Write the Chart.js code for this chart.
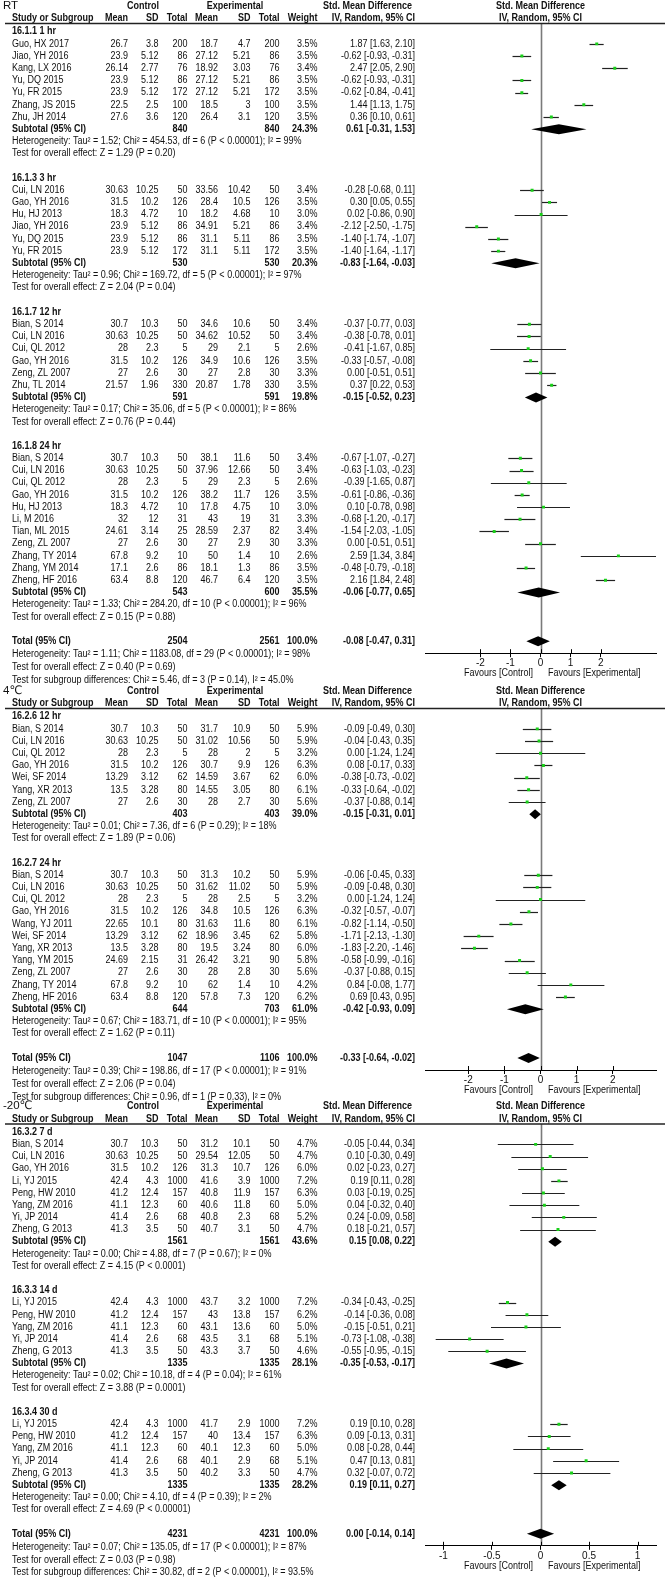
<!DOCTYPE html>
<html><head><meta charset="utf-8">
<script src="https://cdn.jsdelivr.net/npm/chart.js@4"></script>
<style>
html,body{margin:0;padding:0;background:#fff;}
body{width:667px;height:1578px;position:relative;overflow:hidden;}
canvas{position:absolute;left:0;}
</style>
</head><body>
<script>
// ---------------- Panel 1: RT ----------------
const rtTitle = "RT";
const rtGroups = ["16.1.1 1 hr", "16.1.3 3 hr", "16.1.7 12 hr", "16.1.8 24 hr"];
const rtGroupOf = [0,0,0,0,0,0,0, 1,1,1,1,1,1, 2,2,2,2,2,2, 3,3,3,3,3,3,3,3,3,3,3];
const rtStudies = ["Guo, HX 2017","Jiao, YH 2016","Kang, LX 2016","Yu, DQ 2015","Yu, FR 2015","Zhang, JS 2015","Zhu, JH 2014",
  "Cui, LN 2016","Gao, YH 2016","Hu, HJ 2013","Jiao, YH 2016","Yu, DQ 2015","Yu, FR 2015",
  "Bian, S 2014","Cui, LN 2016","Cui, QL 2012","Gao, YH 2016","Zeng, ZL 2007","Zhu, TL 2014",
  "Bian, S 2014","Cui, LN 2016","Cui, QL 2012","Gao, YH 2016","Hu, HJ 2013","Li, M 2016","Tian, ML 2015","Zeng, ZL 2007","Zhang, TY 2014","Zhang, YM 2014","Zheng, HF 2016"];
const rtCtlMean = [26.7,23.9,26.14,23.9,23.9,22.5,27.6, 30.63,31.5,18.3,23.9,23.9,23.9, 30.7,30.63,28,31.5,27,21.57, 30.7,30.63,28,31.5,18.3,32,24.61,27,67.8,17.1,63.4];
const rtCtlSD = [3.8,5.12,2.77,5.12,5.12,2.5,3.6, 10.25,10.2,4.72,5.12,5.12,5.12, 10.3,10.25,2.3,10.2,2.6,1.96, 10.3,10.25,2.3,10.2,4.72,12,3.14,2.6,9.2,2.6,8.8];
const rtCtlN = [200,86,76,86,172,100,120, 50,126,10,86,86,172, 50,50,5,126,30,330, 50,50,5,126,10,31,25,30,10,86,120];
const rtExpMean = [18.7,27.12,18.92,27.12,27.12,18.5,26.4, 33.56,28.4,18.2,34.91,31.1,31.1, 34.6,34.62,29,34.9,27,20.87, 38.1,37.96,29,38.2,17.8,43,28.59,27,50,18.1,46.7];
const rtExpSD = [4.7,5.21,3.03,5.21,5.21,3,3.1, 10.42,10.5,4.68,5.21,5.11,5.11, 10.6,10.52,2.1,10.6,2.8,1.78, 11.6,12.66,2.3,11.7,4.75,19,2.37,2.9,1.4,1.3,6.4];
const rtExpN = [200,86,76,86,172,100,120, 50,126,10,86,86,172, 50,50,5,126,30,330, 50,50,5,126,10,31,82,30,10,86,120];
const rtWeight = [3.5,3.5,3.4,3.5,3.5,3.5,3.5, 3.4,3.5,3.0,3.4,3.5,3.5, 3.4,3.4,2.6,3.5,3.3,3.5, 3.4,3.4,2.6,3.5,3.0,3.3,3.4,3.3,2.6,3.5,3.5];
const rtSMD = [1.87,-0.62,2.47,-0.62,-0.62,1.44,0.36, -0.28,0.30,0.02,-2.12,-1.40,-1.40, -0.37,-0.38,-0.41,-0.33,0.00,0.37, -0.67,-0.63,-0.39,-0.61,0.10,-0.68,-1.54,0.00,2.59,-0.48,2.16];
const rtLo = [1.63,-0.93,2.05,-0.93,-0.84,1.13,0.10, -0.68,0.05,-0.86,-2.50,-1.74,-1.64, -0.77,-0.78,-1.67,-0.57,-0.51,0.22, -1.07,-1.03,-1.65,-0.86,-0.78,-1.20,-2.03,-0.51,1.34,-0.79,1.84];
const rtHi = [2.10,-0.31,2.90,-0.31,-0.41,1.75,0.61, 0.11,0.55,0.90,-1.75,-1.07,-1.17, 0.03,0.01,0.85,-0.08,0.51,0.53, -0.27,-0.23,0.87,-0.36,0.98,-0.17,-1.05,0.51,3.84,-0.18,2.48];
const rtSubCtlN = [840,530,591,543];
const rtSubExpN = [840,530,591,600];
const rtSubWeight = [24.3,20.3,19.8,35.5];
const rtSubSMD = [0.61,-0.83,-0.15,-0.06];
const rtSubLo = [-0.31,-1.64,-0.52,-0.77];
const rtSubHi = [1.53,-0.03,0.23,0.65];
const rtHet = ["Heterogeneity: Tau\u00B2 = 1.52; Chi\u00B2 = 454.53, df = 6 (P < 0.00001); I\u00B2 = 99%",
  "Heterogeneity: Tau\u00B2 = 0.96; Chi\u00B2 = 169.72, df = 5 (P < 0.00001); I\u00B2 = 97%",
  "Heterogeneity: Tau\u00B2 = 0.17; Chi\u00B2 = 35.06, df = 5 (P < 0.00001); I\u00B2 = 86%",
  "Heterogeneity: Tau\u00B2 = 1.33; Chi\u00B2 = 284.20, df = 10 (P < 0.00001); I\u00B2 = 96%"];
const rtTest = ["Test for overall effect: Z = 1.29 (P = 0.20)","Test for overall effect: Z = 2.04 (P = 0.04)",
  "Test for overall effect: Z = 0.76 (P = 0.44)","Test for overall effect: Z = 0.15 (P = 0.88)"];
const rtTotalN = [2504, 2561];
const rtTotalEffect = [-0.08, -0.47, 0.31];
const rtFooter = ["Heterogeneity: Tau\u00B2 = 1.11; Chi\u00B2 = 1183.08, df = 29 (P < 0.00001); I\u00B2 = 98%",
  "Test for overall effect: Z = 0.40 (P = 0.69)",
  "Test for subgroup differences: Chi\u00B2 = 5.46, df = 3 (P = 0.14), I\u00B2 = 45.0%"];
const rtTicks = [-2, -1, 0, 1, 2];

// ---------------- Panel 2: 4℃ ----------------
const c4Title = "4\u2103";
const c4Groups = ["16.2.6 12 hr", "16.2.7 24 hr"];
const c4GroupOf = [0,0,0,0,0,0,0, 1,1,1,1,1,1,1,1,1,1,1];
const c4Studies = ["Bian, S 2014","Cui, LN 2016","Cui, QL 2012","Gao, YH 2016","Wei, SF 2014","Yang, XR 2013","Zeng, ZL 2007",
  "Bian, S 2014","Cui, LN 2016","Cui, QL 2012","Gao, YH 2016","Wang, YJ 2011","Wei, SF 2014","Yang, XR 2013","Yang, YM 2015","Zeng, ZL 2007","Zhang, TY 2014","Zheng, HF 2016"];
const c4CtlMean = [30.7,30.63,28,31.5,13.29,13.5,27, 30.7,30.63,28,31.5,22.65,13.29,13.5,24.69,27,67.8,63.4];
const c4CtlSD = [10.3,10.25,2.3,10.2,3.12,3.28,2.6, 10.3,10.25,2.3,10.2,10.1,3.12,3.28,2.15,2.6,9.2,8.8];
const c4CtlN = [50,50,5,126,62,80,30, 50,50,5,126,80,62,80,31,30,10,120];
const c4ExpMean = [31.7,31.02,28,30.7,14.59,14.55,28, 31.3,31.62,28,34.8,31.63,18.96,19.5,26.42,28,62,57.8];
const c4ExpSD = [10.9,10.56,2,9.9,3.67,3.05,2.7, 10.2,11.02,2.5,10.5,11.6,3.45,3.24,3.21,2.8,1.4,7.3];
const c4ExpN = [50,50,5,126,62,80,30, 50,50,5,126,80,62,80,90,30,10,120];
const c4Weight = [5.9,5.9,3.2,6.3,6.0,6.1,5.6, 5.9,5.9,3.2,6.3,6.1,5.8,6.0,5.8,5.6,4.2,6.2];
const c4SMD = [-0.09,-0.04,0.00,0.08,-0.38,-0.33,-0.37, -0.06,-0.09,0.00,-0.32,-0.82,-1.71,-1.83,-0.58,-0.37,0.84,0.69];
const c4Lo = [-0.49,-0.43,-1.24,-0.17,-0.73,-0.64,-0.88, -0.45,-0.48,-1.24,-0.57,-1.14,-2.13,-2.20,-0.99,-0.88,-0.08,0.43];
const c4Hi = [0.30,0.35,1.24,0.33,-0.02,-0.02,0.14, 0.33,0.30,1.24,-0.07,-0.50,-1.30,-1.46,-0.16,0.15,1.77,0.95];
const c4SubCtlN = [403,644];
const c4SubExpN = [403,703];
const c4SubWeight = [39.0,61.0];
const c4SubSMD = [-0.15,-0.42];
const c4SubLo = [-0.31,-0.93];
const c4SubHi = [0.01,0.09];
const c4Het = ["Heterogeneity: Tau\u00B2 = 0.01; Chi\u00B2 = 7.36, df = 6 (P = 0.29); I\u00B2 = 18%",
  "Heterogeneity: Tau\u00B2 = 0.67; Chi\u00B2 = 183.71, df = 10 (P < 0.00001); I\u00B2 = 95%"];
const c4Test = ["Test for overall effect: Z = 1.89 (P = 0.06)","Test for overall effect: Z = 1.62 (P = 0.11)"];
const c4TotalN = [1047, 1106];
const c4TotalEffect = [-0.33, -0.64, -0.02];
const c4Footer = ["Heterogeneity: Tau\u00B2 = 0.39; Chi\u00B2 = 198.86, df = 17 (P < 0.00001); I\u00B2 = 91%",
  "Test for overall effect: Z = 2.06 (P = 0.04)",
  "Test for subgroup differences: Chi\u00B2 = 0.96, df = 1 (P = 0.33), I\u00B2 = 0%"];
const c4Ticks = [-2, -1, 0, 1, 2];

// ---------------- Panel 3: -20℃ ----------------
const m20Title = "-20\u2103";
const m20Groups = ["16.3.2 7 d", "16.3.3 14 d", "16.3.4 30 d"];
const m20GroupOf = [0,0,0,0,0,0,0,0, 1,1,1,1,1, 2,2,2,2,2];
const m20Studies = ["Bian, S 2014","Cui, LN 2016","Gao, YH 2016","Li, YJ 2015","Peng, HW 2010","Yang, ZM 2016","Yi, JP 2014","Zheng, G 2013",
  "Li, YJ 2015","Peng, HW 2010","Yang, ZM 2016","Yi, JP 2014","Zheng, G 2013",
  "Li, YJ 2015","Peng, HW 2010","Yang, ZM 2016","Yi, JP 2014","Zheng, G 2013"];
const m20CtlMean = [30.7,30.63,31.5,42.4,41.2,41.1,41.4,41.3, 42.4,41.2,41.1,41.4,41.3, 42.4,41.2,41.1,41.4,41.3];
const m20CtlSD = [10.3,10.25,10.2,4.3,12.4,12.3,2.6,3.5, 4.3,12.4,12.3,2.6,3.5, 4.3,12.4,12.3,2.6,3.5];
const m20CtlN = [50,50,126,1000,157,60,68,50, 1000,157,60,68,50, 1000,157,60,68,50];
const m20ExpMean = [31.2,29.54,31.3,41.6,40.8,40.6,40.8,40.7, 43.7,43,43.1,43.5,43.3, 41.7,40,40.1,40.1,40.2];
const m20ExpSD = [10.1,12.05,10.7,3.9,11.9,11.8,2.3,3.1, 3.2,13.8,13.6,3.1,3.7, 2.9,13.4,12.3,2.9,3.3];
const m20ExpN = [50,50,126,1000,157,60,68,50, 1000,157,60,68,50, 1000,157,60,68,50];
const m20Weight = [4.7,4.7,6.0,7.2,6.3,5.0,5.2,4.7, 7.2,6.2,5.0,5.1,4.6, 7.2,6.3,5.0,5.1,4.7];
const m20SMD = [-0.05,0.10,0.02,0.19,0.03,0.04,0.24,0.18, -0.34,-0.14,-0.15,-0.73,-0.55, 0.19,0.09,0.08,0.47,0.32];
const m20Lo = [-0.44,-0.30,-0.23,0.11,-0.19,-0.32,-0.09,-0.21, -0.43,-0.36,-0.51,-1.08,-0.95, 0.10,-0.13,-0.28,0.13,-0.07];
const m20Hi = [0.34,0.49,0.27,0.28,0.25,0.40,0.58,0.57, -0.25,0.08,0.21,-0.38,-0.15, 0.28,0.31,0.44,0.81,0.72];
const m20SubCtlN = [1561,1335,1335];
const m20SubExpN = [1561,1335,1335];
const m20SubWeight = [43.6,28.1,28.2];
const m20SubSMD = [0.15,-0.35,0.19];
const m20SubLo = [0.08,-0.53,0.11];
const m20SubHi = [0.22,-0.17,0.27];
const m20Het = ["Heterogeneity: Tau\u00B2 = 0.00; Chi\u00B2 = 4.88, df = 7 (P = 0.67); I\u00B2 = 0%",
  "Heterogeneity: Tau\u00B2 = 0.02; Chi\u00B2 = 10.18, df = 4 (P = 0.04); I\u00B2 = 61%",
  "Heterogeneity: Tau\u00B2 = 0.00; Chi\u00B2 = 4.10, df = 4 (P = 0.39); I\u00B2 = 2%"];
const m20Test = ["Test for overall effect: Z = 4.15 (P < 0.0001)","Test for overall effect: Z = 3.88 (P = 0.0001)",
  "Test for overall effect: Z = 4.69 (P < 0.00001)"];
const m20TotalN = [4231, 4231];
const m20TotalEffect = [0.00, -0.14, 0.14];
const m20Footer = ["Heterogeneity: Tau\u00B2 = 0.07; Chi\u00B2 = 135.05, df = 17 (P < 0.00001); I\u00B2 = 87%",
  "Test for overall effect: Z = 0.03 (P = 0.98)",
  "Test for subgroup differences: Chi\u00B2 = 30.82, df = 2 (P < 0.00001), I\u00B2 = 93.5%"];
const m20Ticks = [-1, -0.5, 0, 0.5, 1];

// ---------------- layout / drawing ----------------
const FONT = '"Liberation Sans", "DejaVu Sans", Arial, sans-serif';
const NARROW = 0.9;
const COL = {name:12, cm:128, csd:158.5, cn:187.5, em:218, esd:250.5, en:279.5, w:317.5, ci:415};
const PLOT_L = 425, PLOT_R = 656, W = 667;

function txt(ctx, s, x, y, align, bold, size, narrow) {
  ctx.save();
  ctx.font = (bold ? 'bold ' : '') + (size || 10) + 'px ' + FONT;
  ctx.textBaseline = 'middle';
  ctx.textAlign = align || 'left';
  ctx.fillStyle = '#111';
  ctx.translate(x, y);
  ctx.scale(narrow === false ? 1 : NARROW, 1);
  ctx.fillText(s, 0, 0);
  ctx.restore();
}
const f2 = v => v.toFixed(2);
const ciStr = (m, l, h) => f2(m) + ' [' + f2(l) + ', ' + f2(h) + ']';

function makePanel(P) {
  const rows = []; let r = 0;
  P.groups.forEach((g, gi) => {
    rows.push({t:'group', r:r++, g:gi});
    P.names.forEach((n, i) => { if (P.groupOf[i] === gi) rows.push({t:'study', r:r++, i:i}); });
    rows.push({t:'sub', r:r++, g:gi});
    rows.push({t:'het', r:r++, g:gi});
    rows.push({t:'test', r:r++, g:gi});
    r++;
  });
  const totalRow = r;
  const axisY = P.r0 + P.pitch * totalRow + 12;
  const T = P.lineY - P.top, B = axisY - P.top;
  const yMin = (P.lineY - P.r0) / P.pitch, yMax = (axisY - P.r0) / P.pitch;

  const cv = document.createElement('canvas');
  cv.width = W; cv.height = P.height;
  cv.style.top = P.top + 'px'; cv.style.width = W + 'px'; cv.style.height = P.height + 'px';
  document.body.appendChild(cv);

  const points = rows.filter(o => o.t === 'study').map(o => ({x: P.smd[o.i], y: o.r}));

  const plugin = {
    id: 'forest_' + P.top,
    beforeDatasetsDraw(chart) {
      const ctx = chart.ctx, xs = chart.scales.x, ys = chart.scales.y, ca = chart.chartArea;
      ctx.save();
      const x0 = Math.round(xs.getPixelForValue(0)) + 0.5;
      ctx.strokeStyle = '#7a7a7a'; ctx.lineWidth = 1.6;
      ctx.beginPath(); ctx.moveTo(x0, ca.top); ctx.lineTo(x0, ca.bottom); ctx.stroke();
      ctx.strokeStyle = '#222'; ctx.lineWidth = 1.2;
      rows.forEach(o => {
        if (o.t !== 'study') return;
        const y = Math.round(ys.getPixelForValue(o.r)) + 0.5;
        ctx.beginPath();
        ctx.moveTo(xs.getPixelForValue(P.lo[o.i]), y);
        ctx.lineTo(xs.getPixelForValue(P.hi[o.i]), y);
        ctx.stroke();
      });
      const diamond = (m, l, h, rr) => {
        const y = ys.getPixelForValue(rr);
        ctx.beginPath();
        ctx.moveTo(xs.getPixelForValue(l), y);
        ctx.lineTo(xs.getPixelForValue(m), y - 5);
        ctx.lineTo(xs.getPixelForValue(h), y);
        ctx.lineTo(xs.getPixelForValue(m), y + 5);
        ctx.closePath(); ctx.fillStyle = '#000'; ctx.fill();
      };
      rows.forEach(o => { if (o.t === 'sub') diamond(P.subSmd[o.g], P.subLo[o.g], P.subHi[o.g], o.r); });
      diamond(P.totEff[0], P.totEff[1], P.totEff[2], totalRow);
      ctx.restore();
    },
    afterDraw(chart) {
      const ctx = chart.ctx, xs = chart.scales.x, ys = chart.scales.y, ca = chart.chartArea;
      const yr = v => ys.getPixelForValue(v);
      const h1 = P.lineY - P.top - 17.5, h2 = P.lineY - P.top - 5;
      txt(ctx, P.title, 3, h1 - 0.5, 'left', false, 11.5, false);
      txt(ctx, 'Control', 143, h1, 'center', true);
      txt(ctx, 'Experimental', 235, h1, 'center', true);
      txt(ctx, 'Std. Mean Difference', 412, h1, 'right', true);
      txt(ctx, 'Std. Mean Difference', xs.getPixelForValue(0), h1, 'center', true);
      txt(ctx, 'Study or Subgroup', COL.name, h2, 'left', true);
      txt(ctx, 'Mean', COL.cm, h2, 'right', true);
      txt(ctx, 'SD', COL.csd, h2, 'right', true);
      txt(ctx, 'Total', COL.cn, h2, 'right', true);
      txt(ctx, 'Mean', COL.em, h2, 'right', true);
      txt(ctx, 'SD', COL.esd, h2, 'right', true);
      txt(ctx, 'Total', COL.en, h2, 'right', true);
      txt(ctx, 'Weight', COL.w, h2, 'right', true);
      txt(ctx, 'IV, Random, 95% CI', COL.ci, h2, 'right', true);
      txt(ctx, 'IV, Random, 95% CI', xs.getPixelForValue(0), h2, 'center', true);
      ctx.save(); ctx.strokeStyle = '#222'; ctx.lineWidth = 1.4;
      ctx.beginPath(); ctx.moveTo(5, T); ctx.lineTo(W - 2, T); ctx.stroke(); ctx.restore();
      rows.forEach(o => {
        const y = yr(o.r);
        if (o.t === 'group') txt(ctx, P.groups[o.g], COL.name, y, 'left', true);
        else if (o.t === 'study') {
          const i = o.i;
          txt(ctx, P.names[i], COL.name, y, 'left');
          txt(ctx, String(P.cm[i]), COL.cm, y, 'right');
          txt(ctx, String(P.csd[i]), COL.csd, y, 'right');
          txt(ctx, String(P.cn[i]), COL.cn, y, 'right');
          txt(ctx, String(P.em[i]), COL.em, y, 'right');
          txt(ctx, String(P.esd[i]), COL.esd, y, 'right');
          txt(ctx, String(P.en[i]), COL.en, y, 'right');
          txt(ctx, P.w[i].toFixed(1) + '%', COL.w, y, 'right');
          txt(ctx, ciStr(P.smd[i], P.lo[i], P.hi[i]), COL.ci, y, 'right');
        } else if (o.t === 'sub') {
          const g = o.g;
          txt(ctx, 'Subtotal (95% CI)', COL.name, y, 'left', true);
          txt(ctx, String(P.subCn[g]), COL.cn, y, 'right', true);
          txt(ctx, String(P.subEn[g]), COL.en, y, 'right', true);
          txt(ctx, P.subW[g].toFixed(1) + '%', COL.w, y, 'right', true);
          txt(ctx, ciStr(P.subSmd[g], P.subLo[g], P.subHi[g]), COL.ci, y, 'right', true);
        } else if (o.t === 'het') txt(ctx, P.het[o.g], COL.name, y, 'left');
        else if (o.t === 'test') txt(ctx, P.test[o.g], COL.name, y, 'left');
      });
      const ty = yr(totalRow);
      txt(ctx, 'Total (95% CI)', COL.name, ty, 'left', true);
      txt(ctx, String(P.totN[0]), COL.cn, ty, 'right', true);
      txt(ctx, String(P.totN[1]), COL.en, ty, 'right', true);
      txt(ctx, '100.0%', COL.w, ty, 'right', true);
      txt(ctx, ciStr(P.totEff[0], P.totEff[1], P.totEff[2]), COL.ci, ty, 'right', true);
      [13.5, 26.5, 38.8].forEach((d, k) => txt(ctx, P.footer[k], COL.name, ty + d, 'left'));
      ctx.save(); ctx.strokeStyle = '#000'; ctx.lineWidth = 1;
      P.ticks.forEach(v => {
        const x = Math.round(xs.getPixelForValue(v)) + 0.5;
        ctx.beginPath(); ctx.moveTo(x, ca.bottom - 4); ctx.lineTo(x, ca.bottom); ctx.stroke();
      });
      ctx.restore();
      const x0 = xs.getPixelForValue(0);
      txt(ctx, 'Favours [Control]', x0 - 7.5, ca.bottom + 20, 'right');
      txt(ctx, 'Favours [Experimental]', x0 + 7.5, ca.bottom + 20, 'left');
    }
  };

  const chart = new Chart(cv, {
    type: 'scatter',
    data: { datasets: [{ data: points, pointStyle: 'rect', pointRadius: 2.1, pointBorderWidth: 0,
      backgroundColor: '#19cf19', borderColor: '#19cf19' }] },
    options: {
      responsive: false, animation: false, devicePixelRatio: 1, events: [],
      layout: { padding: { left: PLOT_L, right: W - PLOT_R, top: T, bottom: 10 } },
      plugins: { legend: { display: false }, tooltip: { enabled: false } },
      scales: {
        x: { type: 'linear', min: -P.range, max: P.range, position: 'bottom',
          afterBuildTicks: ax => { ax.ticks = P.ticks.map(v => ({ value: v })); },
          ticks: { callback: v => String(v), color: '#111', font: { family: FONT, size: 10 }, padding: 0, maxRotation: 0, autoSkip: false },
          grid: { display: true, drawOnChartArea: false, drawTicks: true, tickLength: 4, color: '#000', lineWidth: 1 },
          border: { display: true, color: '#000', width: 1 } },
        y: { type: 'linear', reverse: true, min: yMin, max: yMax, display: false }
      }
    },
    plugins: [plugin]
  });
  const diff = chart.chartArea.bottom - B;
  chart.options.layout.padding.bottom += diff;
  chart.update('none');
  return chart;
}

makePanel({ top: 0, height: 690, title: rtTitle, lineY: 23.5, r0: 31.7, pitch: 12.19, range: 3.84, ticks: rtTicks,
  groups: rtGroups, groupOf: rtGroupOf, names: rtStudies, cm: rtCtlMean, csd: rtCtlSD, cn: rtCtlN,
  em: rtExpMean, esd: rtExpSD, en: rtExpN, w: rtWeight, smd: rtSMD, lo: rtLo, hi: rtHi,
  subCn: rtSubCtlN, subEn: rtSubExpN, subW: rtSubWeight, subSmd: rtSubSMD, subLo: rtSubLo, subHi: rtSubHi,
  het: rtHet, test: rtTest, totN: rtTotalN, totEff: rtTotalEffect, footer: rtFooter });

makePanel({ top: 682, height: 420, title: c4Title, lineY: 708.5, r0: 716.7, pitch: 12.19, range: 3.2, ticks: c4Ticks,
  groups: c4Groups, groupOf: c4GroupOf, names: c4Studies, cm: c4CtlMean, csd: c4CtlSD, cn: c4CtlN,
  em: c4ExpMean, esd: c4ExpSD, en: c4ExpN, w: c4Weight, smd: c4SMD, lo: c4Lo, hi: c4Hi,
  subCn: c4SubCtlN, subEn: c4SubExpN, subW: c4SubWeight, subSmd: c4SubSMD, subLo: c4SubLo, subHi: c4SubHi,
  het: c4Het, test: c4Test, totN: c4TotalN, totEff: c4TotalEffect, footer: c4Footer });

makePanel({ top: 1099, height: 479, title: m20Title, lineY: 1124, r0: 1132.2, pitch: 12.17, range: 1.19, ticks: m20Ticks,
  groups: m20Groups, groupOf: m20GroupOf, names: m20Studies, cm: m20CtlMean, csd: m20CtlSD, cn: m20CtlN,
  em: m20ExpMean, esd: m20ExpSD, en: m20ExpN, w: m20Weight, smd: m20SMD, lo: m20Lo, hi: m20Hi,
  subCn: m20SubCtlN, subEn: m20SubExpN, subW: m20SubWeight, subSmd: m20SubSMD, subLo: m20SubLo, subHi: m20SubHi,
  het: m20Het, test: m20Test, totN: m20TotalN, totEff: m20TotalEffect, footer: m20Footer });
</script>
</body></html>
